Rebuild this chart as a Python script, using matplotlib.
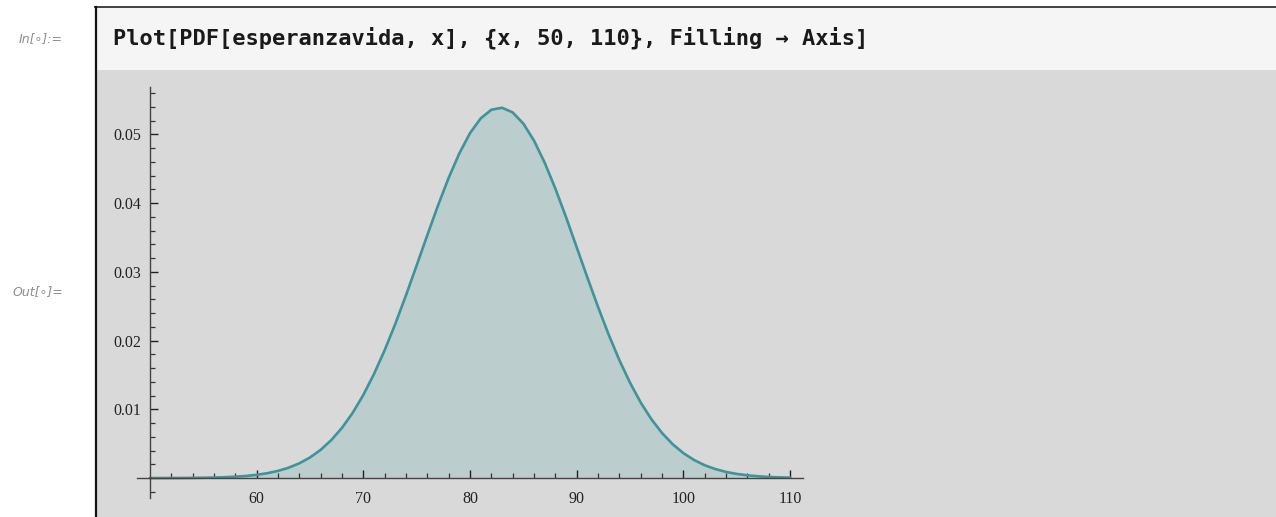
import matplotlib.pyplot as plt
from matplotlib.patches import Rectangle
from matplotlib.lines import Line2D

# valores (PDF de esperanzavida)
x_vals = list(range(50, 111))
pdf_vals = [0.000003, 0.000005, 0.000009, 0.000016, 0.000028, 0.000046, 0.000076,
            0.000124, 0.000196, 0.000306, 0.000468, 0.000703, 0.001038, 0.001504,
            0.002139, 0.002988, 0.004098, 0.005520, 0.007294, 0.009470, 0.01208,
            0.01512, 0.01859, 0.02243, 0.02658, 0.03093, 0.03534, 0.03965, 0.04368,
            0.04724, 0.05018, 0.05233, 0.05359, 0.05388, 0.05320, 0.05157, 0.04909,
            0.04588, 0.04211, 0.03795, 0.03357, 0.02917, 0.02489, 0.02084, 0.01714,
            0.01385, 0.01098, 0.00855, 0.00654, 0.00491, 0.00362, 0.00262, 0.00186,
            0.00130, 0.00089, 0.00060, 0.00040, 0.00026, 0.00016, 0.00010, 0.00006]

x_ticks = [60, 70, 80, 90, 100, 110]
x_minor = [52, 54, 56, 58, 62, 64, 66, 68, 72, 74, 76, 78, 82, 84, 86, 88,
           92, 94, 96, 98, 102, 104, 106, 108]
y_ticks = [0.01, 0.02, 0.03, 0.04, 0.05]
y_labels = ['0.01', '0.02', '0.03', '0.04', '0.05']
y_minor = [-0.002, 0.002, 0.004, 0.006, 0.008, 0.012, 0.014, 0.016, 0.018,
           0.022, 0.024, 0.026, 0.028, 0.032, 0.034, 0.036, 0.038,
           0.042, 0.044, 0.046, 0.048, 0.052, 0.054, 0.056]

input_text = 'Plot[PDF[esperanzavida, x], {x, 50, 110}, Filling \u2192 Axis]'

W, H = 1276, 517
fig = plt.figure(figsize=(W / 100, H / 100), dpi=100)
fig.patch.set_facecolor('white')


def fx(px):
    return px / W


def fy(py):
    return 1 - py / H


# celdas del notebook
fig.patches.append(Rectangle((fx(96), fy(70)), fx(W - 96), (70 - 7) / H,
                             transform=fig.transFigure, facecolor='#f5f5f5',
                             edgecolor='none', zorder=-5))
fig.patches.append(Rectangle((fx(96), 0), fx(W - 96), fy(70),
                             transform=fig.transFigure, facecolor='#d9d9d9',
                             edgecolor='none', zorder=-5))
fig.lines.append(Line2D([fx(95), 1], [fy(7), fy(7)], transform=fig.transFigure,
                        color='#333333', lw=1.3, zorder=-4))
fig.lines.append(Line2D([fx(96), fx(96)], [fy(7), 0], transform=fig.transFigure,
                        color='#111111', lw=1.6, zorder=-4))

fig.text(fx(113), fy(38), input_text, fontsize=15.8, fontweight='bold',
         family='DejaVu Sans Mono', color='#1a1a1a', va='center', ha='left')
fig.text(fx(63), fy(39), 'In[\u2218]:=', fontsize=9, style='italic',
         color='#8c8c8c', va='center', ha='right')
fig.text(fx(63), fy(292), 'Out[\u2218]=', fontsize=9, style='italic',
         color='#8c8c8c', va='center', ha='right')

# grafico
ax = fig.add_axes([fx(137), fy(498), (803 - 137) / W, (498 - 87) / H])
ax.set_zorder(2)
ax.set_facecolor('none')
ax.fill_between(x_vals, pdf_vals, 0, color='#bccdcd', lw=0)
ax.plot(x_vals, pdf_vals, color='#3e9499', lw=1.9, solid_capstyle='round',
        solid_joinstyle='round')

ax.set_xlim(48.8, 111.2)
ax.set_ylim(-0.0029, 0.0569)

for s in ['top', 'right']:
    ax.spines[s].set_visible(False)
ax.spines['left'].set_position(('data', 50))
ax.spines['bottom'].set_position(('data', 0))
for s in ['left', 'bottom']:
    ax.spines[s].set_color('#444444')
    ax.spines[s].set_linewidth(1.0)

ax.set_xticks(x_ticks)
ax.set_xticklabels([str(t) for t in x_ticks])
ax.set_xticks(x_minor, minor=True)
ax.set_yticks(y_ticks)
ax.set_yticklabels(y_labels)
ax.set_yticks(y_minor, minor=True)

ax.tick_params(axis='both', which='major', direction='in', length=6, width=1,
               color='#222222', labelsize=11.5, labelcolor='#222222')
ax.tick_params(axis='both', which='minor', direction='in', length=3.5, width=0.9,
               color='#333333')
ax.tick_params(axis='x', which='major', pad=9)
ax.tick_params(axis='y', which='major', pad=6)
for lab in ax.get_xticklabels() + ax.get_yticklabels():
    lab.set_family('Liberation Serif')

fig.savefig('out.png', dpi=100)
